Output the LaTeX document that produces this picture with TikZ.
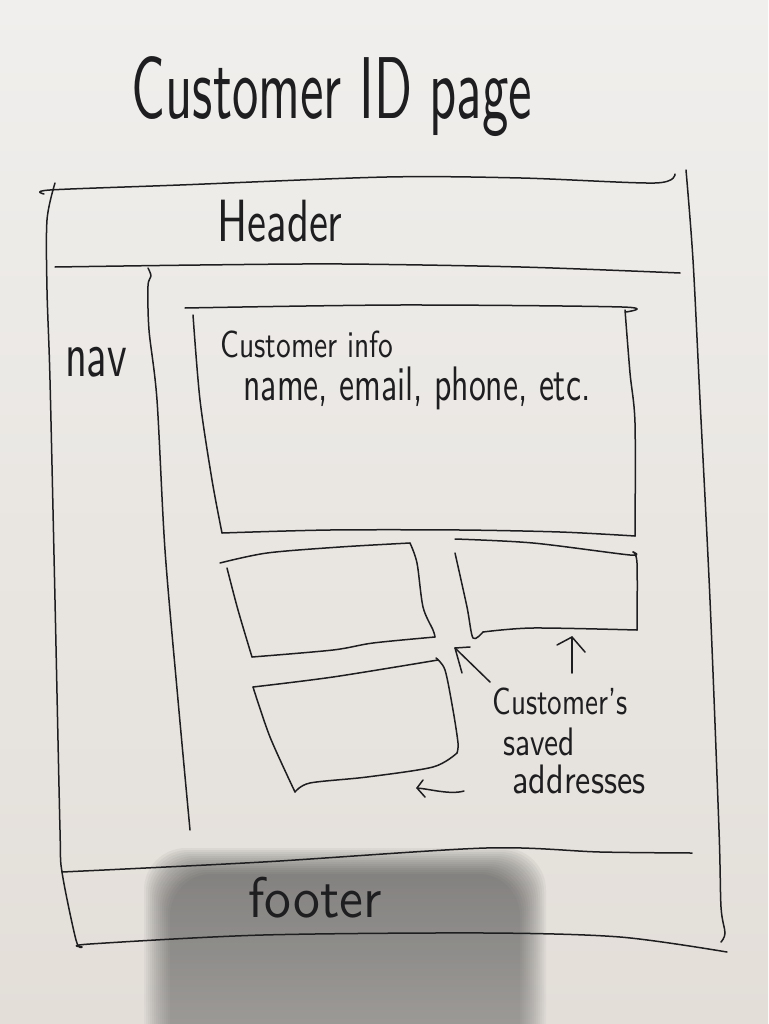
\documentclass[tikz,border=0pt]{standalone}
\usepackage{graphicx}

\definecolor{ink}{HTML}{1E1D1F}
\definecolor{papertop}{HTML}{F0EFED}
\definecolor{paperbot}{HTML}{E3DED8}
\definecolor{shade}{HTML}{46352A}

\tikzset{
  pen/.style={draw=ink, line width=1.5pt, line cap=round, line join=round},
  scribble/.style={inner sep=0pt, outer sep=0pt, text=ink, font=\sffamily},
}
% hand-lettering: text squeezed into a given width and total height
\newcommand{\lettering}[3]{\resizebox*{#1pt}{#2pt}{#3}}

\begin{document}
\begin{tikzpicture}[x=1pt,y=-1pt]
\useasboundingbox (0,0) rectangle (768,1024);

% paper
\shade[top color=papertop, bottom color=paperbot] (0,0) rectangle (768,1024);

% soft shadow at the bottom of the sheet
\foreach \e in {26,24,...,0}{
  \fill[shade, opacity=0.028, rounded corners=42pt]
    ({170-\e},{874-\e}) rectangle ({520+\e},1080);
}

% ---- title
\node[scribble] (title) at (332,97) {\lettering{400}{80}{Customer ID page}};

% ---- outer page frame
\draw[pen] plot[smooth, tension=0.5] coordinates
  {(44,194) (50,190) (180,185) (387,177) (521,178) (655,183) (675,174)};
\draw[pen] plot[smooth, tension=0.5] coordinates
  {(55,183) (47,220) (47,290) (50,380) (55,600) (60,830) (62,872) (76,940) (82,947)};
\draw[pen] plot[smooth, tension=0.5] coordinates
  {(686,170) (693,260) (700,400) (710,600) (719,830) (721,907) (725,933) (721,942)};

% header band
\draw[pen] plot[smooth, tension=0.5] coordinates
  {(55,267) (200,265) (342,264) (521,267) (680,273)};
\node[scribble] (header) at (280,221) {\lettering{125}{42}{Header}};

% nav column
\draw[pen] plot[smooth, tension=0.5] coordinates
  {(148,268) (151,276) (148,286) (149,330) (157,400) (165,550) (178,700) (190,830)};
\node[scribble] (nav) at (96,362) {\lettering{62}{30}{nav}};

% footer band
\draw[pen] plot[smooth, tension=0.5] coordinates
  {(62,872) (263,862) (486,848) (600,852) (692,853)};
\draw[pen] plot[smooth, tension=0.5] coordinates
  {(82,947) (90,944) (263,935) (486,933) (620,937) (727,952)};
\node[scribble] (footer) at (315,898) {\lettering{133}{41}{footer}};

% ---- customer info panel
\draw[pen] plot[smooth, tension=0.5] coordinates
  {(185,308) (400,305) (622,307) (626,312)};
\draw[pen] plot[smooth, tension=0.5] coordinates
  {(193,315) (200,400) (212,480) (222,533)};
\draw[pen] plot[smooth, tension=0.5] coordinates
  {(222,533) (330,530) (460,530) (560,532) (635,536)};
\draw[pen] plot[smooth, tension=0.5] coordinates
  {(625,310) (630,373) (635,423) (635,536)};
\node[scribble] (infotitle) at (307,344) {\lettering{173}{27}{Customer info}};
\node[scribble] (infofields) at (417,388) {\lettering{347}{43}{name, email, phone, etc.}};

% ---- saved address cards
% upper left card
\draw[pen] plot[smooth, tension=0.5] coordinates
  {(220,563) (267,553) (340,547) (410,543)};
\draw[pen] plot[smooth, tension=0.5] coordinates
  {(227,568) (238,610) (252,657)};
\draw[pen] plot[smooth, tension=0.5] coordinates
  {(252,657) (333,650) (373,643) (435,637)};
\draw[pen] plot[smooth, tension=0.5] coordinates
  {(410,543) (417,563) (423,607) (433,630) (435,637)};

% upper right card
\draw[pen] plot[smooth, tension=0.5] coordinates
  {(455,539) (533,543) (630,555) (633,552)};
\draw[pen] plot[smooth, tension=0.5] coordinates
  {(455,553) (467,607) (473,638) (483,632)};
\draw[pen] plot[smooth, tension=0.5] coordinates
  {(483,632) (533,628) (637,630)};
\draw[pen] plot[smooth, tension=0.5] coordinates
  {(633,552) (637,563) (637,630)};

% lower card
\draw[pen] plot[smooth, tension=0.5] coordinates
  {(253,687) (333,677) (438,660)};
\draw[pen] plot[smooth, tension=0.5] coordinates
  {(253,687) (270,737) (295,792)};
\draw[pen] plot[smooth, tension=0.5] coordinates
  {(295,792) (310,783) (367,777) (433,767) (457,753)};
\draw[pen] plot[smooth, tension=0.5] coordinates
  {(436,658) (445,670) (453,710) (458,743) (457,753)};

% ---- callout
\node[scribble] (callA) at (560,701) {\lettering{135}{27}{Customer's}};
\node[scribble] (callB) at (539,742) {\lettering{72}{28}{saved}};
\node[scribble] (callC) at (579,779) {\lettering{133}{29}{addresses}};

\coordinate (p1from) at (490,682);
\coordinate (p1to)   at (455,648);
\coordinate (p2from) at (572,673);
\coordinate (p2to)   at (572,637);
\coordinate (p3from) at (464,791);
\coordinate (p3to)   at (417,788);

% shafts
\draw[pen] (p1from) -- (p1to);
\draw[pen] (p2from) -- (p2to);
\draw[pen] (p3from) .. controls (450,795) and (430,789) .. (p3to);
% open pen-stroke heads
\draw[pen] (p1to) ++(7,25) -- (p1to) -- ++(15,-1);
\draw[pen] (p2to) ++(-15,8) -- (p2to) -- ++(13,15);
\draw[pen] (p3to) ++(6,-8) -- (p3to) -- ++(8,9);

\end{tikzpicture}
\end{document}
